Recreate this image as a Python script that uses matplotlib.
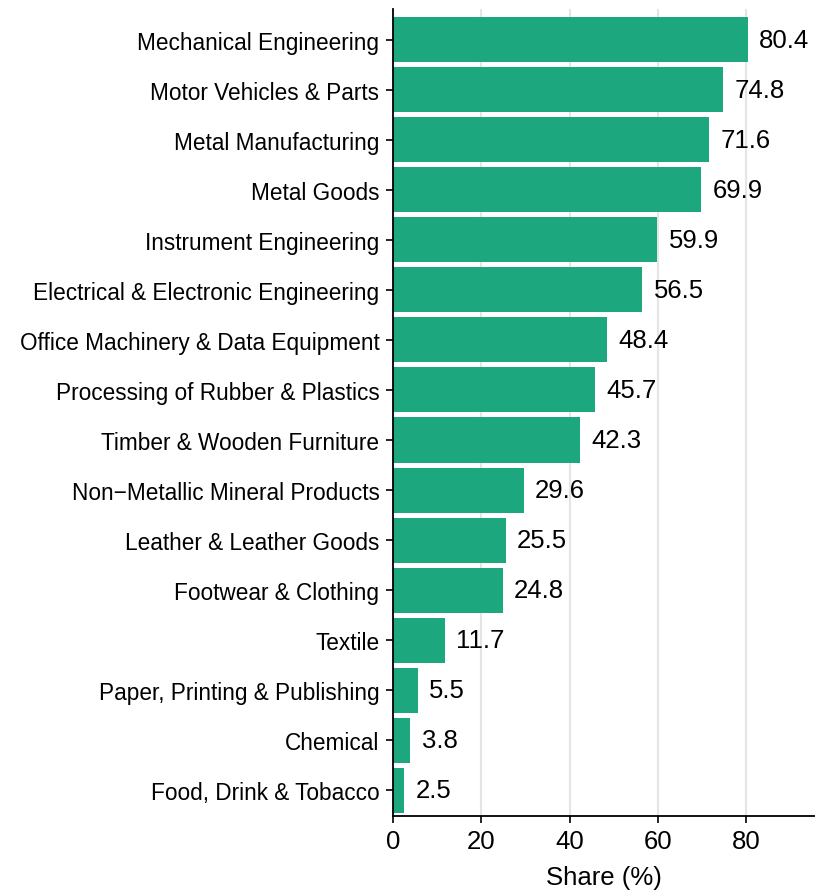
import matplotlib.pyplot as plt

plt.rcParams['font.family'] = ['Liberation Sans', 'DejaVu Sans']

# Dados
setores = ['Mechanical Engineering', 'Motor Vehicles & Parts', 'Metal Manufacturing',
           'Metal Goods', 'Instrument Engineering', 'Electrical & Electronic Engineering',
           'Office Machinery & Data Equipment', 'Processing of Rubber & Plastics',
           'Timber & Wooden Furniture', 'Non\u2212Metallic Mineral Products',
           'Leather & Leather Goods', 'Footwear & Clothing', 'Textile',
           'Paper, Printing & Publishing', 'Chemical', 'Food, Drink & Tobacco']
valores = [80.4, 74.8, 71.6, 69.9, 59.9, 56.5, 48.4, 45.7, 42.3, 29.6,
           25.5, 24.8, 11.7, 5.5, 3.8, 2.5]

cor = '#1DA77F'

fig = plt.figure(figsize=(8.15, 8.95), dpi=100)
ax = fig.add_axes([0.4826, 0.087, 0.5174, 0.902])

pos = list(range(len(setores)))[::-1]
ax.barh(pos, valores, height=0.9, color=cor, zorder=2)

for y, v in zip(pos, valores):
    ax.text(v + 2.6, y, f'{v:.1f}', va='center', ha='left', fontsize=18.5, color='black')

ax.set_yticks(pos)
ax.set_yticklabels(setores, fontsize=16.3)
ax.set_xticks([0, 20, 40, 60, 80])
ax.tick_params(axis='x', labelsize=18.5, length=5, width=1.2, pad=4)
ax.tick_params(axis='y', length=5, width=1.2, pad=5)
ax.set_xlim(0, 95.7)
ax.set_ylim(-0.52, len(setores) - 1 + 0.62)
ax.set_xlabel('Share (%)', fontsize=18.5, labelpad=9)

ax.grid(axis='x', color='#E5E5E5', linewidth=1.5, zorder=0)
ax.spines['top'].set_visible(False)
ax.spines['right'].set_visible(False)
ax.spines['left'].set_linewidth(1.3)
ax.spines['bottom'].set_linewidth(1.3)

plt.savefig('out.png', dpi=100)
